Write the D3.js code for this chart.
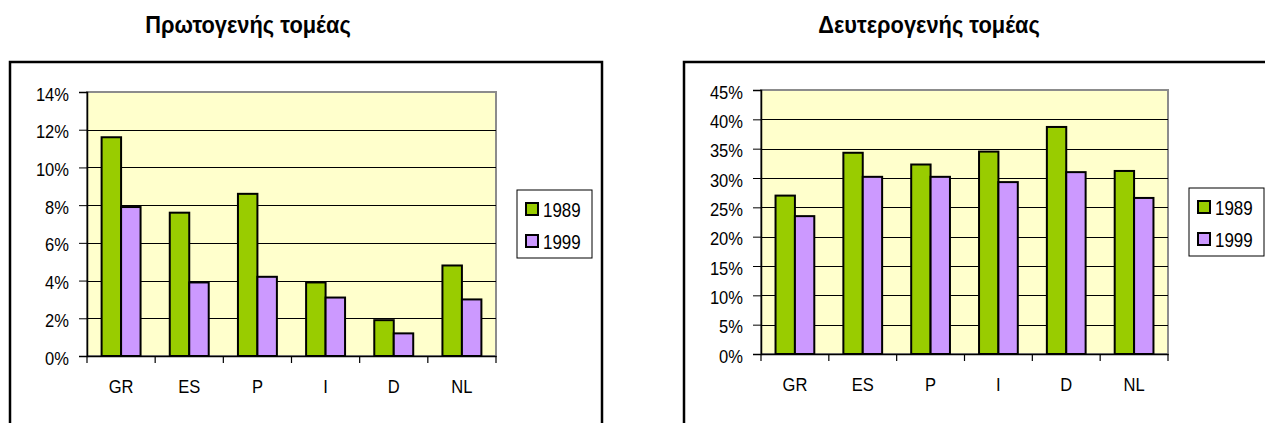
<!DOCTYPE html>
<html>
<head>
<meta charset="utf-8">
<script src="https://cdn.jsdelivr.net/npm/d3@7"></script>
<style>
  body { margin: 0; background: #fff; }
  svg { display: block; font-family: "Liberation Sans", Arial, sans-serif; }
  .title { font-weight: bold; font-size: 23px; }
  .axis text { font-size: 18px; fill: #000; }
  .legend text { font-size: 19.5px; }
</style>
</head>
<body>
<svg class="chart"></svg>
<script>
var categories = ['GR', 'ES', 'P', 'I', 'D', 'NL'];
var years = ['1989', '1999'];
var primary1989 = [11.6, 7.6, 8.6, 3.9, 1.9, 4.8];
var primary1999 = [7.9, 3.9, 4.2, 3.1, 1.2, 3.0];
var secondary1989 = [27.0, 34.3, 32.3, 34.5, 38.7, 31.2];
var secondary1999 = [23.5, 30.2, 30.2, 29.3, 31.0, 26.6];
var primaryTicks = [0, 2, 4, 6, 8, 10, 12, 14];
var secondaryTicks = [0, 5, 10, 15, 20, 25, 30, 35, 40, 45];

var yearColors = {'1989': '#99cc00', '1999': '#cc99ff'};

var width = 1265;
var height = 423;
// the source font is a bit condensed
var squeeze = 0.92;

var svg = d3.select('.chart').attr('width', width).attr('height', height);

function drawChart(cfg) {
  var g = svg.append('g');

  // outer frame (bottom / right run past the picture)
  g.append('rect')
      .attr('x', cfg.frame[0])
      .attr('y', cfg.frame[1])
      .attr('width', cfg.frame[2])
      .attr('height', cfg.frame[3])
      .attr('fill', 'none')
      .attr('stroke', '#000')
      .attr('stroke-width', 2.5);

  g.append('text')
      .attr('class', 'title')
      .attr('transform', 'translate(' + cfg.titleX + ',33) scale(0.95,1)')
      .attr('text-anchor', 'middle')
      .text(cfg.title);

  var x = d3.scaleBand().domain(categories).range([cfg.plot.x0, cfg.plot.x1]);
  var xInner = d3.scaleBand()
                   .domain(years)
                   .range([0, x.bandwidth()])
                   .paddingInner(0)
                   .paddingOuter(0.75);
  var y = d3.scaleLinear()
              .domain([0, d3.max(cfg.ticks)])
              .range([cfg.plot.y1, cfg.plot.y0]);

  // plot area
  g.append('rect')
      .attr('x', cfg.plot.x0)
      .attr('y', cfg.plot.y0)
      .attr('width', cfg.plot.x1 - cfg.plot.x0)
      .attr('height', cfg.plot.y1 - cfg.plot.y0)
      .attr('fill', '#ffffcc')
      .attr('stroke', '#8c8c8c')
      .attr('stroke-width', 2);

  // gridlines
  g.selectAll('line.grid')
      .data(cfg.ticks.filter(t => t > 0 && t < d3.max(cfg.ticks)))
      .join('line')
      .attr('class', 'grid')
      .attr('x1', cfg.plot.x0)
      .attr('x2', cfg.plot.x1)
      .attr('y1', d => Math.round(y(d)) + 0.5)
      .attr('y2', d => Math.round(y(d)) + 0.5)
      .attr('stroke', '#000')
      .attr('stroke-width', 1);

  var rows = categories.map((c, i) => ({
    cat: c,
    vals: [
      {year: '1989', v: cfg.s1989[i]},
      {year: '1999', v: cfg.s1999[i]},
    ]
  }));

  g.selectAll('g.group')
      .data(rows)
      .join('g')
      .attr('class', 'group')
      .attr('transform', d => 'translate(' + x(d.cat) + ',0)')
      .selectAll('rect')
      .data(d => d.vals)
      .join('rect')
      .attr('x', d => xInner(d.year))
      .attr('y', d => y(d.v))
      .attr('width', xInner.bandwidth())
      .attr('height', d => y(0) - y(d.v))
      .attr('fill', d => yearColors[d.year])
      .attr('stroke', '#000')
      .attr('stroke-width', 2);

  // y axis
  var yAxis = d3.axisLeft(y)
                  .tickValues(cfg.ticks)
                  .tickFormat(d => d + '%')
                  .tickSize(8)
                  .tickPadding(10);
  var ya = g.append('g')
               .attr('class', 'axis')
               .attr('transform', 'translate(' + cfg.plot.x0 + ',0)')
               .call(yAxis);
  ya.attr('font-family', null).attr('font-size', null);
  ya.select('.domain').attr('stroke', '#000').attr('stroke-width', 1.5);
  ya.selectAll('text')
      .attr('x', -18 / squeeze)
      .attr('dy', '0.45em')
      .attr('transform', 'scale(' + squeeze + ',1)');

  // x axis: labels from the band scale, ticks on category boundaries
  var xAxis = d3.axisBottom(x).tickSize(0).tickPadding(0);
  var xa = g.append('g')
               .attr('class', 'axis')
               .attr('transform', 'translate(0,' + cfg.plot.y1 + ')')
               .call(xAxis);
  xa.attr('font-family', null).attr('font-size', null);
  xa.select('.domain').attr('stroke', '#000').attr('stroke-width', 1.5);
  xa.selectAll('text')
      .attr('dy', null)
      .attr('y', 37)
      .attr('transform', 'scale(' + squeeze + ',1)');
  var bounds = categories.map(c => x(c)).concat([x.range()[1]]);
  xa.selectAll('line.bound')
      .data(bounds)
      .join('line')
      .attr('class', 'bound')
      .attr('x1', d => d)
      .attr('x2', d => d)
      .attr('y1', 0)
      .attr('y2', 7)
      .attr('stroke', '#000')
      .attr('stroke-width', 1.2);

  // legend
  var lg = g.append('g')
               .attr('class', 'legend')
               .attr('transform', 'translate(' + cfg.legend[0] + ',' + cfg.legend[1] + ')');
  lg.append('rect')
      .attr('width', 75)
      .attr('height', 68)
      .attr('fill', '#fff')
      .attr('stroke', '#000')
      .attr('stroke-width', 1);
  var items = lg.selectAll('g.item')
                  .data(years)
                  .join('g')
                  .attr('class', 'item')
                  .attr('transform', (d, i) => 'translate(0,' + (i * 32) + ')');
  items.append('rect')
      .attr('x', 9)
      .attr('y', 13)
      .attr('width', 12)
      .attr('height', 12)
      .attr('fill', d => yearColors[d])
      .attr('stroke', '#000')
      .attr('stroke-width', 2);
  items.append('text')
      .attr('transform', 'translate(26,26.5) scale(0.87,1)')
      .text(d => d);
}

drawChart({
  title: 'Πρωτογενής τομέας',
  titleX: 248,
  frame: [10, 62, 592, 420],
  plot: {x0: 87, x1: 496, y0: 92, y1: 356},
  ticks: primaryTicks,
  s1989: primary1989,
  s1999: primary1999,
  legend: [517, 190],
});

drawChart({
  title: 'Δευτερογενής τομέας',
  titleX: 929,
  frame: [684, 62, 700, 420],
  plot: {x0: 761, x1: 1168, y0: 90, y1: 354},
  ticks: secondaryTicks,
  s1989: secondary1989,
  s1999: secondary1999,
  legend: [1189, 188],
});
</script>
</body>
</html>
